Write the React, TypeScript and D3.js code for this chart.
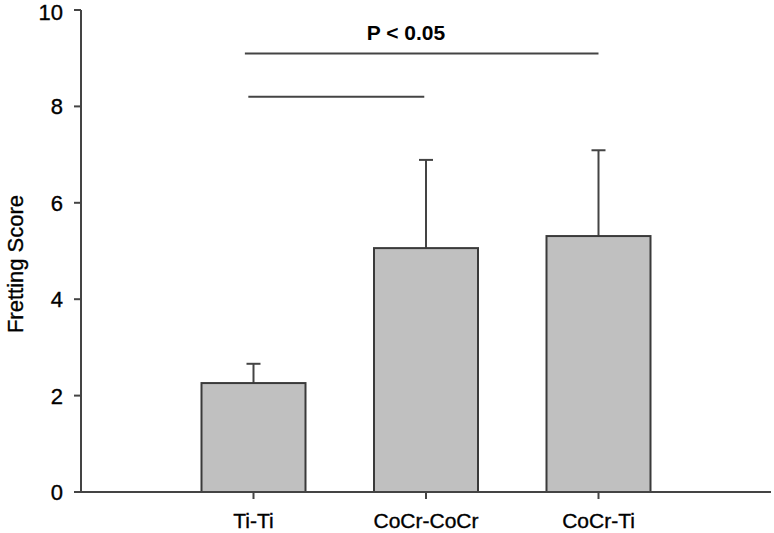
import React from "react";
import * as d3 from "d3";

const categories = ["Ti-Ti", "CoCr-CoCr", "CoCr-Ti"];
const means = [2.26, 5.06, 5.31];
const errors = [0.4, 1.83, 1.78];
const yTicks = [0, 2, 4, 6, 8, 10];
const sigBrackets = [
  { from: 0.95, to: 3.0, level: 9.1 },
  { from: 0.97, to: 1.99, level: 8.2 },
];
const sigLabel = "P < 0.05";

const W = 774;
const H = 533;

export default function App() {
  const x = d3.scaleLinear().domain([0, 4]).range([81, 771]);
  const y = d3.scaleLinear().domain([0, 10]).range([492, 10]);
  const barW = 104;
  const axisColor = "#444";
  const font = "'Liberation Sans', Arial, Helvetica, sans-serif";
  const textStyle = { stroke: "#000", strokeWidth: 0.35 } as React.CSSProperties;

  return (
    <svg width={W} height={H} style={{ position: "absolute", left: 0, top: 0, background: "#fff" }}>
      {/* bars */}
      {means.map((m, i) => {
        const cx = x(i + 1);
        return (
          <g key={categories[i]}>
            <line x1={cx} x2={cx} y1={y(m)} y2={y(m + errors[i])} stroke={axisColor} strokeWidth={2} />
            <line x1={cx - 7} x2={cx + 7} y1={y(m + errors[i])} y2={y(m + errors[i])} stroke={axisColor} strokeWidth={2} />
            <rect x={cx - barW / 2} y={y(m)} width={barW} height={y(0) - y(m)} fill="#c0c0c0" stroke="#3a3a3a" strokeWidth={2} />
          </g>
        );
      })}
      {/* y axis */}
      <line x1={81} x2={81} y1={y(10)} y2={y(0)} stroke={axisColor} strokeWidth={2} />
      {yTicks.map((t) => (
        <g key={t}>
          <line x1={74} x2={81} y1={y(t)} y2={y(t)} stroke={axisColor} strokeWidth={2} />
          <text x={63} y={Math.max(y(t) + 8, 20)} textAnchor="end" fontFamily={font} fontSize={22} fill="#000" style={textStyle}>
            {t}
          </text>
        </g>
      ))}
      {/* x axis */}
      <line x1={74} x2={771} y1={y(0)} y2={y(0)} stroke={axisColor} strokeWidth={2} />
      {categories.map((c, i) => (
        <g key={c}>
          <line x1={x(i + 1)} x2={x(i + 1)} y1={y(0)} y2={y(0) + 7} stroke={axisColor} strokeWidth={2} />
          <text x={x(i + 1)} y={528} textAnchor="middle" fontFamily={font} fontSize={21} fill="#000" style={textStyle}>
            {c}
          </text>
        </g>
      ))}
      {/* y label */}
      <text
        transform={`translate(23, ${264}) rotate(-90)`}
        textAnchor="middle"
        fontFamily={font}
        fontSize={22}
        fill="#000"
        style={textStyle}
      >
        Fretting Score
      </text>
      {/* significance */}
      {sigBrackets.map((b, i) => (
        <line key={i} x1={x(b.from)} x2={x(b.to)} y1={y(b.level)} y2={y(b.level)} stroke={axisColor} strokeWidth={2} />
      ))}
      <text x={406} y={40} textAnchor="middle" fontFamily={font} fontSize={21} fontWeight="bold" fill="#000">
        {sigLabel}
      </text>
    </svg>
  );
}
